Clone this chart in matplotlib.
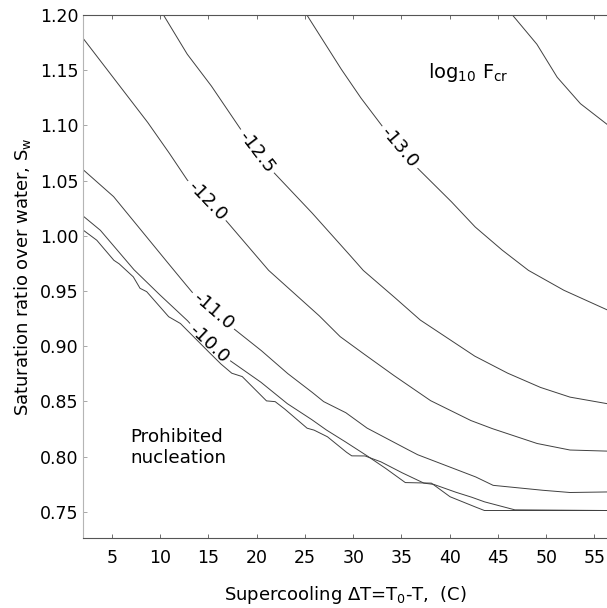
import numpy as np
import matplotlib
matplotlib.use("Agg")
import matplotlib.pyplot as plt

# ---- data: contour lines of log10 F_cr ----
x_m135 = [46.5, 49.0, 51.1, 53.5, 56.3]
y_m135 = [1.200, 1.174, 1.144, 1.120, 1.101]

x_m130 = [25.2, 28.6, 30.7, 32.95, 34.8, 36.7, 40.0, 42.6, 45.3, 48.1, 51.75, 56.3]
y_m130 = [1.200, 1.153, 1.126, 1.100, 1.080, 1.061, 1.0325, 1.0083, 0.988, 0.969, 0.951, 0.933]

x_m125 = [10.34, 12.76, 15.2, 18.3, 20.0, 21.7, 25.5, 29.2, 31.0, 33.8, 36.9, 40.0, 42.6, 45.9, 49.3, 52.4, 56.3]
y_m125 = [1.200, 1.165, 1.137, 1.097, 1.076, 1.058, 1.023, 0.987, 0.969, 0.948, 0.924, 0.906, 0.891, 0.876, 0.863, 0.854, 0.848]

x_m120 = [2.0, 5.17, 8.6, 10.7, 12.76, 14.85, 16.9, 21.2, 23.5, 26.2, 28.6, 30.0, 33.8, 37.95, 42.1, 44.2, 49.0, 52.4, 56.3]
y_m120 = [1.179, 1.143, 1.104, 1.078, 1.051, 1.032, 1.013, 0.969, 0.951, 0.930, 0.909, 0.900, 0.876, 0.851, 0.833, 0.826, 0.812, 0.806, 0.805]

x_m110 = [2.0, 5.17, 8.6, 11.4, 13.4, 15.5, 17.6, 20.35, 23.1, 25.5, 26.9, 29.2, 31.4, 33.8, 36.6, 39.0, 42.6, 44.5, 49.0, 52.4, 56.3]
y_m110 = [1.060, 1.0355, 0.999, 0.969, 0.948, 0.932, 0.916, 0.897, 0.876, 0.860, 0.850, 0.840, 0.826, 0.815, 0.802, 0.794, 0.782, 0.774, 0.770, 0.7675, 0.768]

x_m100 = [2.0, 3.8, 7.2, 9.66, 12.76, 15.0, 17.07, 20.35, 23.1, 25.5, 27.1, 28.6, 31.05, 33.1, 35.4, 38.1, 40.0, 42.1, 43.6, 56.3]
y_m100 = [1.018, 1.005, 0.970, 0.949, 0.9238, 0.902, 0.888, 0.868, 0.8484, 0.8348, 0.8248, 0.8167, 0.803, 0.791, 0.7765, 0.776, 0.7638, 0.7563, 0.7512, 0.7512]

x_edge = [2.0, 3.4, 5.17, 5.7, 7.2, 7.9, 8.6, 10.86, 12.07, 13.6, 16.2, 17.4, 18.5, 21.0, 21.9, 22.8, 25.2, 25.9, 27.3, 29.2, 29.85, 31.2, 32.8, 34.8, 37.3, 38.3, 40.4, 42.1, 43.5, 46.75, 56.3]
y_edge = [1.0053, 0.9963, 0.978, 0.975, 0.963, 0.9525, 0.9494, 0.9268, 0.9208, 0.9073, 0.8846, 0.8756, 0.8725, 0.8505, 0.8499, 0.8439, 0.8258, 0.8242, 0.8182, 0.8046, 0.8007, 0.8007, 0.7956, 0.7865, 0.776, 0.775, 0.7684, 0.7638, 0.7593, 0.7518, 0.7512]

# (x, y, label text, x position of inline label)
lines = [
    (x_m135, y_m135, None, None),
    (x_m130, y_m130, "-13.0", 34.8),
    (x_m125, y_m125, "-12.5", 20.0),
    (x_m120, y_m120, "-12.0", 14.85),
    (x_m110, y_m110, "-11.0", 15.5),
    (x_m100, y_m100, "-10.0", 15.0),
    (x_edge, y_edge, None, None),
]

x_ticks = [5, 10, 15, 20, 25, 30, 35, 40, 45, 50, 55]
y_ticks = [0.75, 0.80, 0.85, 0.90, 0.95, 1.00, 1.05, 1.10, 1.15, 1.20]

FS = 12.5
LINE_COLOR = "#404040"

fig = plt.figure(figsize=(6.07, 6.08), dpi=100)
ax = fig.add_axes([83 / 607, (608 - 538) / 608, 1 - 83 / 607, (538 - 15) / 608])
ax.set_xlim(2.0, 56.3)
ax.set_ylim(0.7263, 1.20)

GAP = 27.5  # px radius of the gap around an inline label


def draw(xs, ys, label, lx):
    xs = np.asarray(xs, float)
    ys = np.asarray(ys, float)
    n = len(xs)
    t = np.linspace(0, n - 1, (n - 1) * 60 + 1)
    xd = np.interp(t, np.arange(n), xs)
    yd = np.interp(t, np.arange(n), ys)
    if label is not None:
        ly = np.interp(lx, xs, ys)
        pts = ax.transData.transform(np.c_[xd, yd])
        c = ax.transData.transform((lx, ly))
        d = np.hypot(pts[:, 0] - c[0], pts[:, 1] - c[1])
        p1 = ax.transData.transform((lx - 1.5, np.interp(lx - 1.5, xs, ys)))
        p2 = ax.transData.transform((lx + 1.5, np.interp(lx + 1.5, xs, ys)))
        ang = np.degrees(np.arctan2(p2[1] - p1[1], p2[0] - p1[0]))
        yd = np.where(d < GAP, np.nan, yd)
        ax.text(lx, ly, label, rotation=ang, rotation_mode="anchor",
                ha="center", va="center", fontsize=13.3, color="black")
    ax.plot(xd, yd, color=LINE_COLOR, lw=0.7, solid_joinstyle="miter")


for xs, ys, lab, lx in lines:
    draw(xs, ys, lab, lx)

ax.set_xticks(x_ticks)
ax.set_yticks(y_ticks)
ax.set_yticklabels([f"{v:.2f}" for v in y_ticks])
ax.tick_params(axis="x", direction="in", length=3, width=0.6, top=True,
               labelsize=FS, pad=8, color="#555555")
ax.tick_params(axis="y", direction="in", length=3, width=0.6,
               labelsize=FS, pad=3, color="#999999")

for s in ("top", "bottom"):
    ax.spines[s].set_color("#555555")
    ax.spines[s].set_linewidth(0.8)
ax.spines["left"].set_color("#b5b5b5")
ax.spines["left"].set_linewidth(0.8)
ax.spines["right"].set_visible(False)

ax.set_xlabel(r"Supercooling $\Delta$T=T$_\mathregular{0}$-T,  (C)", fontsize=13)
ax.xaxis.set_label_coords(0.5, -0.088)
ax.set_ylabel(r"Saturation ratio over water, S$_\mathregular{w}$", fontsize=13)
ax.yaxis.set_label_coords(-0.096, 0.5)

ax.text(37.7, 1.148, r"log$_\mathregular{10}$ F$_\mathregular{cr}$", fontsize=14,
        ha="left", va="center")
ax.text(6.9, 0.808, "Prohibited\nnucleation", fontsize=13.2,
        ha="left", va="center", linespacing=1.2)

fig.savefig("out.png", dpi=100)
